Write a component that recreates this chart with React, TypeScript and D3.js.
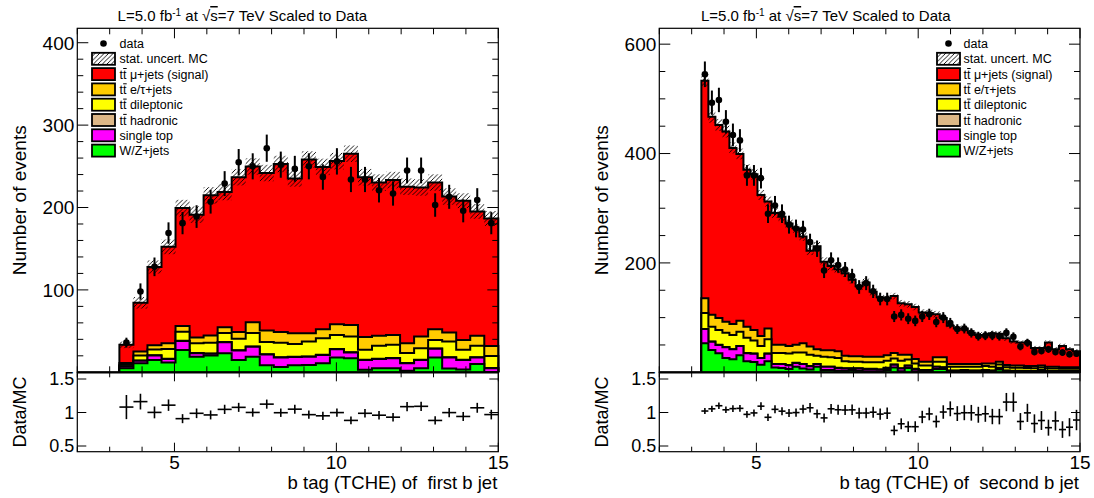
import React from "react";
import * as d3 from "d3";

// ---- axis definitions ----
const X_MIN = 2;
const X_MAX = 15;
const TCHE_CUT = 3.3; // first filled bin edge
const X_MAJOR = [5, 10, 15];
const RATIO_MAJOR = [0.5, 1, 1.5];
const RATIO_LABELS = ["0.5", "1", "1.5"];
const LEAD_Y_MAJOR = [100, 200, 300, 400];
const SUB_Y_MAJOR = [200, 400, 600];

// ---- first b jet: 30 bins on [2,15], filled from 3.3 (27 bins) ----
const leadWZ = [5, 11, 15, 12, 27, 19, 20.5, 23, 15, 19, 8.5, 6.5, 8.5, 9, 11, 18, 17, 3, 5, 5, 2, 5, 18, 4.5, 3.5, 10, 0.5];
const leadSingleTop = [2, 3, 5.5, 4, 11, 4, 2, 13.5, 11.5, 12, 13, 11.5, 10, 10, 10, 10, 7, 12, 11, 12, 9, 10, 10.5, 13.5, 11.5, 8, 4.5];
const leadHadronic = [0.3, 0.3, 0.3, 0.3, 0.3, 0.3, 0.3, 0.3, 0.3, 0.3, 0.3, 0.3, 0.3, 0.3, 0.3, 0.3, 0.3, 0.3, 0.3, 0.3, 0.3, 0.3, 0.3, 0.3, 0.3, 0.3, 0.3];
const leadDilep = [2, 6, 7, 12, 11, 12, 13, 11, 14, 16.5, 15, 17.5, 15.5, 18, 20, 17, 19, 12, 16, 16, 12, 14, 10.5, 19, 12, 14, 14.5];
const leadETau = [2, 5, 5, 7, 7, 7, 9, 7, 8, 13, 14, 13, 13, 10, 11, 13, 14, 15.5, 12, 12, 12, 14, 13, 11, 12, 12, 12];
const leadSignal = [22, 59, 95, 117, 143, 149, 170, 164, 188, 189, 191, 204, 188, 211, 197, 198, 208, 194, 186, 188, 190, 181, 178, 165, 169, 151, 155];
const leadMCUnc = [4, 7, 8, 9, 10, 10, 10, 10, 10, 10, 10, 10, 10, 10, 10, 10, 10, 10, 10, 10, 10, 10, 10, 10, 9, 9, 9];
const leadData = [36, 98, 128, 169, 181, 189, 207, 229, 255, 250, 272, 252, 247, 250, 237, 256, 234, 234, 221, 217, 245, 245, 203, 213, 196, 209, 181];

// ---- second b jet: 60 bins on [2,15], filled from 3.3 (54 bins) ----
const subWZ = [53, 41, 35, 26, 24, 31, 20, 19, 14, 20, 9, 8, 6, 10, 7, 5, 10, 4, 4, 3, 3, 4, 3, 2, 2, 2, 4, 9, 2, 8, 2, 1, 1, 6, 6, 1, 1, 1, 1, 1, 1, 1, 5, 1, 0.5, 0.5, 0.5, 0.5, 2, 0.5, 0.5, 0.5, 0.5, 0.5];
const subSingleTop = [26, 15, 15, 20, 18, 17, 15, 15, 12, 14, 6, 7, 7, 7, 8, 6, 5, 6, 6, 5, 4, 3, 4, 4, 4, 3, 4, 5, 5, 4, 4, 3, 3, 4, 3, 2, 2, 3, 2, 2, 3, 2, 3, 2, 2, 2, 2, 1.5, 2, 1.5, 1.5, 1.5, 1.5, 1.5];
const subHadronic = [0.3, 0.3, 0.3, 0.3, 0.3, 0.3, 0.3, 0.3, 0.3, 0.3, 0.3, 0.3, 0.3, 0.3, 0.3, 0.3, 0.3, 0.3, 0.3, 0.3, 0.3, 0.3, 0.3, 0.3, 0.3, 0.3, 0.3, 0.3, 0.3, 0.3, 0.3, 0.3, 0.3, 0.3, 0.3, 0.3, 0.3, 0.3, 0.3, 0.3, 0.3, 0.3, 0.3, 0.3, 0.3, 0.3, 0.3, 0.3, 0.3, 0.3, 0.3, 0.3, 0.3, 0.3];
const subDilep = [29, 27, 27, 26, 26, 26, 28, 24, 22, 26, 20, 20, 21, 19, 21, 21, 15, 18, 17, 18, 13, 12, 12, 12, 12, 13, 13, 11, 14, 11, 10, 8, 8, 9, 10, 7, 7, 6, 7, 7, 7, 7, 6, 6, 5.5, 5.5, 5, 5, 4.5, 4.5, 4.5, 4, 4, 4];
const subETau = [27, 22, 22, 20, 20, 20, 20, 19, 18, 20, 15, 15, 14, 14, 17, 15, 12, 12, 13, 12, 10, 10, 10, 10, 10, 10, 10, 10, 11, 9, 8, 7, 7, 8, 8, 5, 5, 5, 5, 5, 5, 6, 5, 4, 4, 4, 3.5, 4, 3.5, 3.5, 3.5, 3, 3, 3];
const subSignal = [398, 362, 353, 348, 322, 305, 287, 285, 258, 232, 241, 234, 224, 213, 195, 175, 188, 162, 154, 150, 151, 140, 128, 136, 119, 109, 104, 104, 94, 92, 95, 90, 89, 79, 72, 70, 65, 65, 57, 53, 52, 55, 51, 49, 44, 42, 43, 33, 32, 44, 32, 39, 33, 29];
const subMCUnc = [12, 11, 11, 11, 10, 10, 10, 10, 9, 9, 9, 9, 9, 8, 8, 8, 8, 8, 8, 7, 7, 7, 7, 7, 7, 6, 6, 6, 6, 6, 6, 6, 6, 6, 5, 5, 5, 5, 5, 5, 5, 5, 5, 5, 4, 4, 4, 4, 4, 4, 4, 4, 4, 4];
const subData = [545, 493, 498, 458, 434, 424, 360, 360, 355, 290, 305, 290, 270, 263, 261, 238, 226, 186, 205, 196, 188, 176, 156, 163, 148, 134, 134, 102, 105, 98, 94, 102, 106, 92, 100, 90, 79, 80, 72, 66, 67, 67, 66, 72, 65, 47, 54, 37, 39, 42, 37, 36, 33, 34];

// ---- legend ----
const LEGEND_LABELS = ["data", "stat. uncert. MC", " \u03bc+jets (signal)", " e/\u03c4+jets", " dileptonic", " hadronic", "single top", "W/Z+jets"];
const LEGEND_TTBAR = [false, false, true, true, true, true, false, false];

// stack colours, bottom to top: W/Z, single top, hadronic, dileptonic, e/tau, signal
const STACK_COLORS = ["#00ff00", "#ff00ff", "#deb887", "#ffff00", "#ffcc00", "#ff0000"];
const LEGEND_COLORS = [null, null, "#ff0000", "#ffcc00", "#ffff00", "#deb887", "#ff00ff", "#00ff00"];

// ---- layout ----
const Y_TOP = 28.3;
const Y_MID = 372.3;
const Y_BOT = 451.7;
const RATIO_DOMAIN = [0.415, 1.6];
const FONT = "'Liberation Sans', Arial, Helvetica, sans-serif";

type PanelSpec = {
  x0: number;
  x1: number;
  yMax: number;
  nBinsFull: number;
  yMajor: number[];
  yMinorStep: number;
  layers: number[][];
  unc: number[];
  data: number[];
  legendBox: number;
  legendText: number;
  titleX: number;
  xTitle: string;
};

const PANELS: PanelSpec[] = [
  {
    x0: 77.3,
    x1: 498.3,
    yMax: 417.5,
    nBinsFull: 30,
    yMajor: LEAD_Y_MAJOR,
    yMinorStep: 20,
    layers: [leadWZ, leadSingleTop, leadHadronic, leadDilep, leadETau, leadSignal],
    unc: leadMCUnc,
    data: leadData,
    legendBox: 92,
    legendText: 119.5,
    titleX: 117.6,
    xTitle: "b tag (TCHE) of  first b jet",
  },
  {
    x0: 659.3,
    x1: 1080,
    yMax: 629,
    nBinsFull: 60,
    yMajor: SUB_Y_MAJOR,
    yMinorStep: 50,
    layers: [subWZ, subSingleTop, subHadronic, subDilep, subETau, subSignal],
    unc: subMCUnc,
    data: subData,
    legendBox: 937,
    legendText: 963.5,
    titleX: 701,
    xTitle: "b tag (TCHE) of  second b jet",
  },
];

function Title({ x }: { x: number }) {
  return (
    <text x={x} y={21} fontSize={15} fill="#000">
      L=5.0 fb
      <tspan dy={-5.5} fontSize={10}>-1</tspan>
      <tspan dy={5.5}> at </tspan>
      <tspan>{"\u221a"}</tspan>
      <tspan style={{ textDecoration: "overline" }}>s</tspan>
      <tspan>=7 TeV Scaled to Data</tspan>
    </text>
  );
}

function Panel({ p }: { p: PanelSpec }) {
  const x = d3.scaleLinear().domain([X_MIN, X_MAX]).range([p.x0, p.x1]);
  const y = d3.scaleLinear().domain([0, p.yMax]).range([Y_MID, Y_TOP]);
  const r = d3.scaleLinear().domain(RATIO_DOMAIN).range([Y_BOT, Y_MID]);
  const binWidth = (X_MAX - X_MIN) / p.nBinsFull;
  const n = p.data.length;
  const edges = d3.range(n + 1).map((i) => TCHE_CUT + i * binWidth);

  // cumulative stack
  const cum: number[][] = [];
  let running = p.layers[0].map(() => 0);
  p.layers.forEach((layer) => {
    running = running.map((v, i) => v + layer[i]);
    cum.push(running);
  });
  const total = cum[cum.length - 1];

  const line = d3.line();
  const stepPts = (vals: number[]): [number, number][] => {
    const pts: [number, number][] = [[x(edges[0]), y(0)]];
    vals.forEach((v, i) => {
      pts.push([x(edges[i]), y(v)]);
      pts.push([x(edges[i + 1]), y(v)]);
    });
    pts.push([x(edges[n]), y(0)]);
    return pts;
  };

  const xMinor = d3.range(X_MIN, X_MAX + 0.001, 1).filter((v) => !X_MAJOR.includes(v));
  const yMinor = d3.range(0, p.yMax, p.yMinorStep).filter((v) => !p.yMajor.includes(v) && v > 0);

  const legendY = (k: number) => 43.5 + k * 15.3;

  return (
    <g>
      {/* stacked MC, drawn from the full stack down to the lowest component */}
      {cum
        .map((vals, k) => ({ vals, k }))
        .reverse()
        .map(({ vals, k }) => {
          const pts = stepPts(vals);
          return (
            <g key={`layer-${k}`}>
              <path d={line(pts) + "Z"} fill={STACK_COLORS[k]} stroke="none" />
              <path d={line(pts) || ""} fill="none" stroke="#000" strokeWidth={2} strokeLinejoin="miter" />
            </g>
          );
        })}

      {/* MC statistical uncertainty */}
      {total.map((t, i) => (
        <rect
          key={`unc-${i}`}
          x={x(edges[i])}
          width={x(edges[i + 1]) - x(edges[i])}
          y={y(t + p.unc[i])}
          height={y(t - p.unc[i]) - y(t + p.unc[i])}
          fill="url(#mcHatch)"
        />
      ))}

      {/* data points */}
      {p.data.map((d, i) => {
        const cx = x((edges[i] + edges[i + 1]) / 2);
        const e = Math.sqrt(d);
        return (
          <g key={`data-${i}`}>
            <line x1={cx} x2={cx} y1={y(d - e)} y2={y(d + e)} stroke="#000" strokeWidth={2} />
            <circle cx={cx} cy={y(d)} r={3.3} fill="#000" />
          </g>
        );
      })}

      {/* ratio panel crosses */}
      {p.data.map((d, i) => {
        const ratio = d / total[i];
        const err = Math.sqrt(d) / total[i];
        const cx = x((edges[i] + edges[i + 1]) / 2);
        return (
          <g key={`ratio-${i}`} stroke="#000" strokeWidth={1.6}>
            <line x1={x(edges[i])} x2={x(edges[i + 1])} y1={r(ratio)} y2={r(ratio)} />
            <line x1={cx} x2={cx} y1={r(Math.max(ratio - err, RATIO_DOMAIN[0]))} y2={r(Math.min(ratio + err, RATIO_DOMAIN[1]))} />
          </g>
        );
      })}

      {/* frames */}
      <rect x={p.x0} y={Y_TOP} width={p.x1 - p.x0} height={Y_MID - Y_TOP} fill="none" stroke="#000" strokeWidth={1.2} />
      <rect x={p.x0} y={Y_MID} width={p.x1 - p.x0} height={Y_BOT - Y_MID} fill="none" stroke="#000" strokeWidth={1.2} />
      <line x1={p.x0} x2={p.x1} y1={Y_MID} y2={Y_MID} stroke="#000" strokeWidth={2.2} />

      {/* x ticks */}
      <g stroke="#000" strokeWidth={1}>
        {xMinor.map((v) => (
          <g key={`xm-${v}`}>
            <line x1={x(v)} x2={x(v)} y1={Y_TOP} y2={Y_TOP + 6} />
            <line x1={x(v)} x2={x(v)} y1={Y_MID} y2={Y_MID - 6} />
            <line x1={x(v)} x2={x(v)} y1={Y_MID} y2={Y_MID + 5} />
            <line x1={x(v)} x2={x(v)} y1={Y_BOT} y2={Y_BOT - 5} />
          </g>
        ))}
        {X_MAJOR.map((v) => (
          <g key={`xM-${v}`}>
            <line x1={x(v)} x2={x(v)} y1={Y_TOP} y2={Y_TOP + 10} />
            <line x1={x(v)} x2={x(v)} y1={Y_MID} y2={Y_MID - 10} />
            <line x1={x(v)} x2={x(v)} y1={Y_MID} y2={Y_MID + 9} />
            <line x1={x(v)} x2={x(v)} y1={Y_BOT} y2={Y_BOT - 9} />
          </g>
        ))}
        {/* y ticks, main panel */}
        {yMinor.map((v) => (
          <g key={`ym-${v}`}>
            <line x1={p.x0} x2={p.x0 + 6} y1={y(v)} y2={y(v)} />
            <line x1={p.x1} x2={p.x1 - 6} y1={y(v)} y2={y(v)} />
          </g>
        ))}
        {p.yMajor.map((v) => (
          <g key={`yM-${v}`}>
            <line x1={p.x0} x2={p.x0 + 11} y1={y(v)} y2={y(v)} />
            <line x1={p.x1} x2={p.x1 - 11} y1={y(v)} y2={y(v)} />
          </g>
        ))}
        {/* y ticks, ratio panel */}
        {RATIO_MAJOR.map((v) => (
          <g key={`rM-${v}`}>
            <line x1={p.x0} x2={p.x0 + 9} y1={r(v)} y2={r(v)} />
            <line x1={p.x1} x2={p.x1 - 9} y1={r(v)} y2={r(v)} />
          </g>
        ))}
      </g>

      {/* tick labels */}
      <g fontSize={19} fill="#000">
        {p.yMajor.map((v) => (
          <text key={`yl-${v}`} x={p.x0 - 3} y={y(v)} dy="0.36em" textAnchor="end">
            {String(v)}
          </text>
        ))}
        {X_MAJOR.map((v) => (
          <text key={`xl-${v}`} x={x(v)} y={468.5} textAnchor="middle">
            {String(v)}
          </text>
        ))}
      </g>
      <g fontSize={18} fill="#000">
        {RATIO_MAJOR.map((v, i) => (
          <text key={`rl-${v}`} x={p.x0 - 3} y={r(v)} dy="0.36em" textAnchor="end">
            {RATIO_LABELS[i]}
          </text>
        ))}
      </g>

      {/* axis titles */}
      <text
        x={0}
        y={0}
        transform={`translate(${p.x0 - 51},${(Y_TOP + Y_MID) / 2}) rotate(-90)`}
        textAnchor="middle"
        fontSize={19}
      >
        Number of events
      </text>
      <text
        x={0}
        y={0}
        transform={`translate(${p.x0 - 51},${(Y_MID + Y_BOT) / 2}) rotate(-90)`}
        textAnchor="middle"
        fontSize={18}
      >
        Data/MC
      </text>
      <text x={p.x1 - 1} y={489} textAnchor="end" fontSize={18.5} style={{ whiteSpace: "pre" }}>
        {p.xTitle}
      </text>

      <Title x={p.titleX} />

      {/* legend */}
      {LEGEND_LABELS.map((label, k) => {
        const cy = legendY(k);
        const bx = p.legendBox;
        const tx = p.legendText;
        return (
          <g key={`leg-${k}`}>
            {k === 0 && <circle cx={bx + 11.5} cy={cy} r={3.3} fill="#000" />}
            {k === 1 && (
              <rect x={bx} y={cy - 6} width={23} height={12} fill="url(#mcHatch)" stroke="#000" strokeWidth={1.8} />
            )}
            {k > 1 && (
              <rect x={bx} y={cy - 6} width={23} height={12} fill={LEGEND_COLORS[k] || "none"} stroke="#000" strokeWidth={1.8} />
            )}
            <text x={tx} y={cy} dy="0.36em" fontSize={12.5} fill="#000" style={{ whiteSpace: "pre" }}>
              {LEGEND_TTBAR[k] ? "tt" + label : label}
            </text>
            {LEGEND_TTBAR[k] && (
              <line x1={tx + 3.7} x2={tx + 7.2} y1={cy - 5.6} y2={cy - 5.6} stroke="#000" strokeWidth={1} />
            )}
          </g>
        );
      })}
    </g>
  );
}

export default function App() {
  return (
    <svg
      width={1094}
      height={498}
      viewBox="0 0 1094 498"
      style={{ position: "absolute", left: 0, top: 0, display: "block" }}
      fontFamily={FONT}
    >
      <defs>
        <pattern id="mcHatch" width={4.5} height={4.5} patternUnits="userSpaceOnUse">
          <path d="M0,4.5 L4.5,0 M-1,1 L1,-1 M3.5,5.5 L5.5,3.5" stroke="#000" strokeWidth={0.9} />
        </pattern>
      </defs>
      <rect x={0} y={0} width={1094} height={498} fill="#fff" />
      {PANELS.map((p, i) => (
        <Panel key={i} p={p} />
      ))}
    </svg>
  );
}
